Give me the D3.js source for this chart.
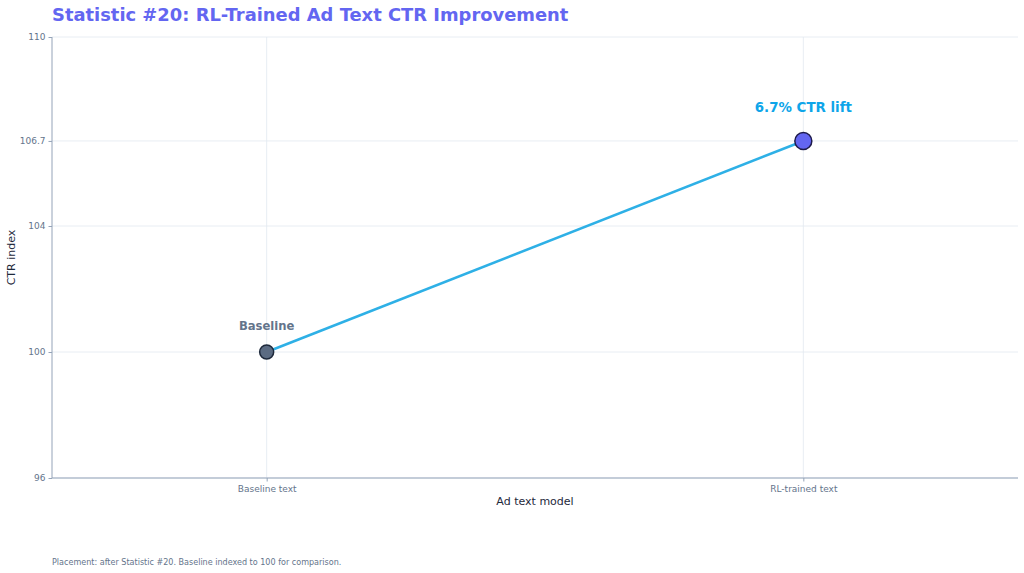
<!DOCTYPE html>
<html>
<head>
<meta charset="utf-8">
<script src="https://cdn.jsdelivr.net/npm/d3@7"></script>
<style>
  html, body { margin: 0; padding: 0; background: #ffffff; }
  svg { display: block; font-family: "DejaVu Sans", sans-serif; }
</style>
</head>
<body>
<svg id="chart" width="1024" height="573"></svg>
<script>
const categories = ["Baseline text", "RL-trained text"];
const ctrValues = [100, 106.7];
const yTickValues = [96, 100, 104, 106.7, 110];
const pointLabels = ["Baseline", "6.7% CTR lift"];
const titleText = "Statistic #20: RL-Trained Ad Text CTR Improvement";
const footerText = "Placement: after Statistic #20. Baseline indexed to 100 for comparison.";

const svg = d3.select("#chart");
const m = { left: 52, right: 1018, top: 37, bottom: 478 };

const x = d3.scalePoint().domain(categories).range([m.left, m.right]).padding(0.4);
const y = d3.scaleLinear().domain([96, 110]).range([m.bottom, m.top]);

// title
svg.append("text").attr("x", 52).attr("y", 21)
  .attr("font-size", 17.9).attr("font-weight", "bold").attr("fill", "#6366f1")
  .text(titleText);

// grid
const grid = svg.append("g");
grid.selectAll("line.h").data(yTickValues).join("line")
  .attr("x1", m.left).attr("x2", m.right)
  .attr("y1", d => y(d)).attr("y2", d => y(d))
  .attr("stroke", "#e2e8f0").attr("stroke-width", 0.8);
grid.selectAll("line.v").data(categories).join("line")
  .attr("x1", d => x(d)).attr("x2", d => x(d))
  .attr("y1", m.top).attr("y2", m.bottom)
  .attr("stroke", "#e2e8f0").attr("stroke-width", 0.8);

// axes
const yAxis = svg.append("g").attr("transform", `translate(${m.left},0)`)
  .call(d3.axisLeft(y).tickValues(yTickValues).tickFormat(d => String(d)).tickSize(3.5).tickPadding(3));
const xAxis = svg.append("g").attr("transform", `translate(0,${m.bottom})`)
  .call(d3.axisBottom(x).tickSize(3.5).tickPadding(4));
[yAxis, xAxis].forEach(a => {
  a.select(".domain").attr("stroke", "#94a3b8").attr("stroke-width", 1);
  a.selectAll(".tick line").attr("stroke", "#94a3b8");
  a.selectAll(".tick text").attr("fill", "#64748b").attr("font-size", 9)
    .attr("font-family", "DejaVu Sans, sans-serif");
});
xAxis.select(".domain").attr("d", `M${m.left},0H${m.right}`);
yAxis.select(".domain").attr("d", `M0,${m.top}V${m.bottom}`);

// axis labels
svg.append("text").attr("x", (m.left + m.right) / 2).attr("y", 505)
  .attr("text-anchor", "middle").attr("font-size", 11).attr("fill", "#1e293b")
  .text("Ad text model");
svg.append("text").attr("transform", `translate(15,${(m.top + m.bottom) / 2}) rotate(-90)`)
  .attr("text-anchor", "middle").attr("font-size", 11).attr("fill", "#1e293b")
  .text("CTR index");

// line
const data = categories.map((c, i) => ({ c, v: ctrValues[i], label: pointLabels[i] }));
svg.append("path").datum(data)
  .attr("d", d3.line().x(d => x(d.c)).y(d => y(d.v)))
  .attr("fill", "none").attr("stroke", "#2eb0e6").attr("stroke-width", 2.6);

// markers
const fills = ["#5b6b82", "#6366f1"];
const strokes = ["#1e293b", "#1e1b4b"];
const radii = [7, 8.5];
svg.selectAll("circle.pt").data(data).join("circle")
  .attr("cx", d => x(d.c)).attr("cy", d => y(d.v))
  .attr("r", (d, i) => radii[i])
  .attr("fill", (d, i) => fills[i]).attr("stroke", (d, i) => strokes[i]).attr("stroke-width", 1.5);

// annotations
const labColors = ["#64748b", "#0ea5e9"];
const labSizes = [11.6, 13.4];
const labOffsets = [22, 29];
svg.selectAll("text.ann").data(data).join("text")
  .attr("x", d => x(d.c)).attr("y", (d, i) => y(d.v) - labOffsets[i])
  .attr("text-anchor", "middle").attr("font-weight", "bold")
  .attr("font-size", (d, i) => labSizes[i]).attr("fill", (d, i) => labColors[i])
  .text(d => d.label);

// footer
svg.append("text").attr("x", 52).attr("y", 565)
  .attr("font-size", 8.05).attr("fill", "#64748b").text(footerText);
</script>
</body>
</html>
